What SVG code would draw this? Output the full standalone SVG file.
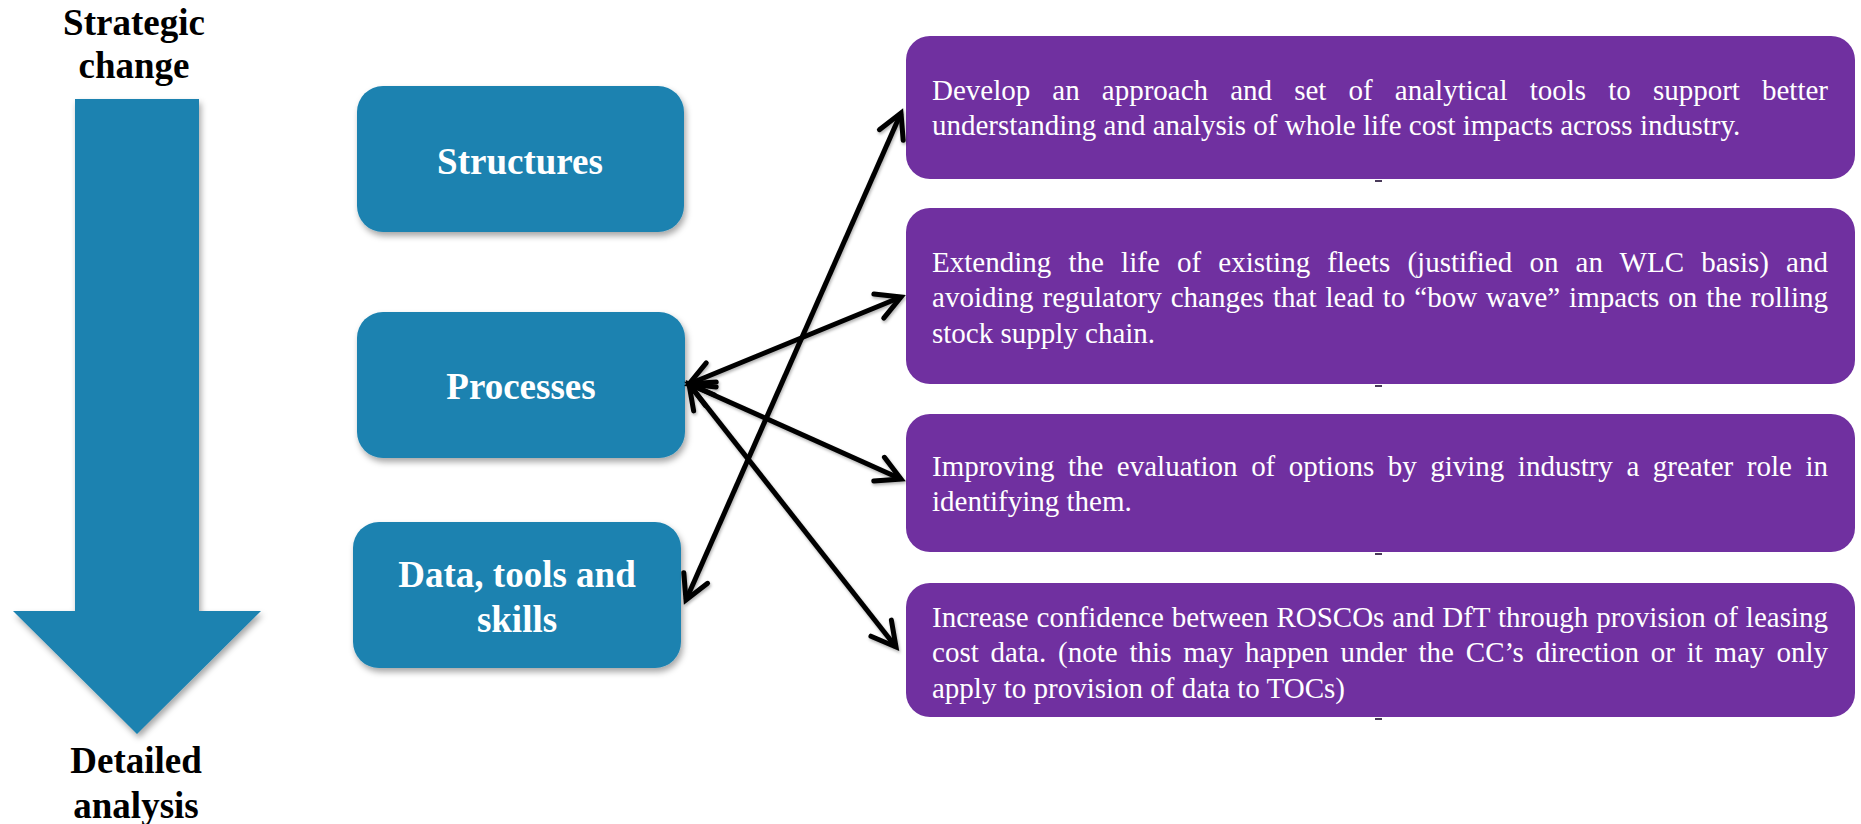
<svg xmlns="http://www.w3.org/2000/svg" width="1861" height="824" viewBox="0 0 1861 824">
<style>
.bg{fill:#ffffff}
.blue{fill:#1b82b0}
.purple{fill:#7030a0}
.lbl{font-family:"Liberation Serif","Times New Roman",serif;font-weight:bold;font-size:37px;fill:#000000;text-anchor:middle}
.btxt{font-family:"Liberation Serif","Times New Roman",serif;font-weight:bold;font-size:37px;fill:#ffffff;text-anchor:middle}
.ptxt{font-family:"Liberation Serif","Times New Roman",serif;font-size:29px;fill:#ffffff}
.conn{fill:none;stroke:#000000;stroke-width:5;marker-start:url(#head);marker-end:url(#head)}
.tick{fill:#4a3a5a}
</style>
<defs>
<filter id="sh" x="-10%" y="-10%" width="130%" height="130%">
<feDropShadow dx="2" dy="4" stdDeviation="3" flood-color="#000000" flood-opacity="0.35"/>
</filter>
<filter id="lsh" x="-20%" y="-20%" width="140%" height="140%">
<feDropShadow dx="1" dy="2" stdDeviation="1.5" flood-color="#000000" flood-opacity="0.3"/>
</filter>
<marker id="head" markerUnits="userSpaceOnUse" orient="auto-start-reverse" refX="0" refY="0" markerWidth="40" markerHeight="40" overflow="visible">
<path d="M-24,-13 L0,0 L-24,13" fill="none" stroke="#000000" stroke-width="5" stroke-linecap="round" stroke-linejoin="miter"/>
</marker>
</defs>
<rect class="bg" x="0" y="0" width="1861" height="824"/>

<g id="scale-arrow">
<polygon class="blue" filter="url(#sh)" points="75,99 199,99 199,611 261,611 137,734 13,611 75,611"/>
<text class="lbl" x="134" y="35">Strategic</text>
<text class="lbl" x="134" y="78">change</text>
<text class="lbl" x="136" y="773">Detailed</text>
<text class="lbl" x="136" y="818">analysis</text>
</g>

<g id="node-structures">
<rect class="blue" filter="url(#sh)" x="357" y="86" width="327" height="146" rx="26"/>
<text class="btxt" x="520" y="174">Structures</text>
</g>
<g id="node-processes">
<rect class="blue" filter="url(#sh)" x="357" y="312" width="328" height="146" rx="26"/>
<text class="btxt" x="521" y="399">Processes</text>
</g>
<g id="node-data">
<rect class="blue" filter="url(#sh)" x="353" y="522" width="328" height="146" rx="26"/>
<text class="btxt" x="517" y="587">Data, tools and</text>
<text class="btxt" x="517" y="632">skills</text>
</g>

<g id="node-wlc">
<rect class="purple" x="906" y="36" width="949" height="143" rx="24"/>
<rect class="tick" x="1375" y="180" width="7" height="2"/>
<text class="ptxt" x="932" y="100" word-spacing="14.9" textLength="896" lengthAdjust="spacing">Develop an approach and set of analytical tools to support better</text>
<text class="ptxt" x="932" y="135">understanding and analysis of whole life cost impacts across industry.</text>
</g>
<g id="node-fleets">
<rect class="purple" x="906" y="208" width="949" height="176" rx="24"/>
<rect class="tick" x="1375" y="385" width="7" height="2"/>
<text class="ptxt" x="932" y="272" word-spacing="9.9" textLength="896" lengthAdjust="spacing">Extending the life of existing fleets (justified on an WLC basis) and</text>
<text class="ptxt" x="932" y="307" word-spacing="1.7" textLength="896" lengthAdjust="spacing">avoiding regulatory changes that lead to “bow wave” impacts on the rolling</text>
<text class="ptxt" x="932" y="343">stock supply chain.</text>
</g>
<g id="node-options">
<rect class="purple" x="906" y="414" width="949" height="138" rx="24"/>
<rect class="tick" x="1375" y="553" width="7" height="2"/>
<text class="ptxt" x="932" y="476" word-spacing="6.3" textLength="896" lengthAdjust="spacing">Improving the evaluation of options by giving industry a greater role in</text>
<text class="ptxt" x="932" y="511">identifying them.</text>
</g>
<g id="node-roscos">
<rect class="purple" x="906" y="583" width="949" height="134" rx="24"/>
<rect class="tick" x="1375" y="718" width="7" height="2"/>
<text class="ptxt" x="932" y="627" word-spacing="0.7" textLength="896" lengthAdjust="spacing">Increase confidence between ROSCOs and DfT through provision of leasing</text>
<text class="ptxt" x="932" y="662" word-spacing="4.5" textLength="896" lengthAdjust="spacing">cost data. (note this may happen under the CC’s direction or it may only</text>
<text class="ptxt" x="932" y="698">apply to provision of data to TOCs)</text>
</g>

<g id="connectors" filter="url(#lsh)">
<line class="conn" x1="686" y1="600" x2="901" y2="113"/>
<line class="conn" x1="689" y1="384" x2="901" y2="297"/>
<line class="conn" x1="689" y1="384" x2="901" y2="479"/>
<line class="conn" x1="689" y1="384" x2="896" y2="647"/>
</g>
</svg>
